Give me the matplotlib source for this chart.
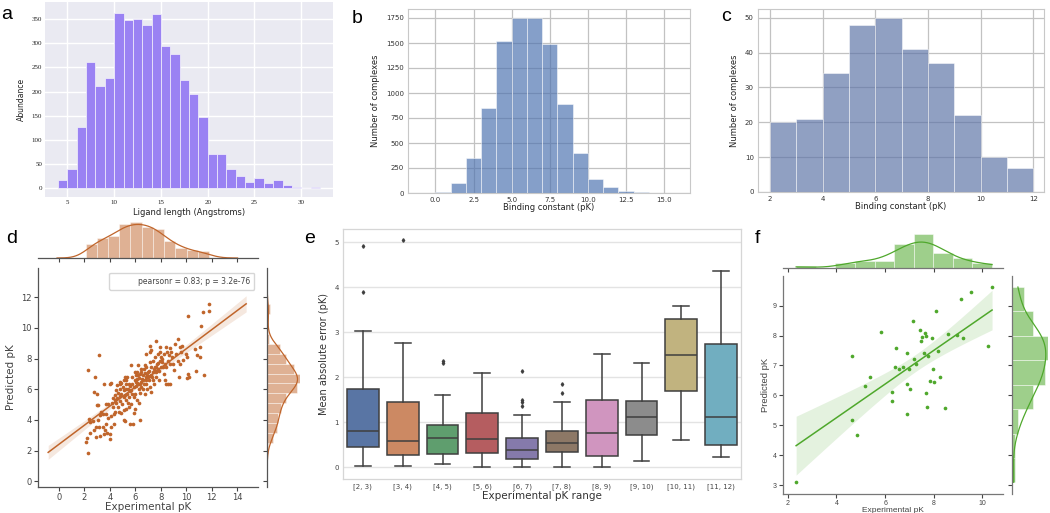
import numpy as np
import matplotlib
matplotlib.use("Agg")
import matplotlib.pyplot as plt
from matplotlib.patches import Rectangle
import seaborn as sns

# ---------------- data ----------------
lig_edges = list(range(4, 33))
lig_counts = [17, 40, 126, 261, 212, 227, 363, 348, 350, 338, 360, 294, 278, 224,
              195, 147, 71, 70, 39, 26, 12, 21, 10, 17, 6, 3, 0, 2]

pk_all_edges = list(range(0, 17))
pk_all_counts = [15, 100, 350, 850, 1525, 1750, 1750, 1490, 890, 400, 140, 60, 20, 10, 3, 2]

pk_core_edges = list(range(2, 13))
pk_core_counts = [20, 21, 34, 48, 50, 41, 37, 22, 10, 7]

d_exp = [2.28, 3.14, 2.28, 2.09, 2.20, 2.41, 2.36, 2.46, 2.80, 2.77, 2.96, 2.98, 3.09, 2.77, 2.93,
         3.19, 3.14, 2.88, 3.46, 3.59, 3.51, 3.66, 3.77, 3.85, 3.48, 3.19, 3.51, 3.85, 3.66, 3.98,
         4.03, 4.11, 4.29, 4.11, 4.29, 4.14, 4.24, 4.42, 4.45, 4.11, 4.37, 4.63, 4.55, 4.76, 4.90,
         4.63, 4.71, 4.90, 5.08, 5.16, 5.08, 4.82, 4.97, 5.16, 5.24, 5.34, 5.42, 5.50, 5.29, 5.08,
         5.16, 5.34, 5.24, 5.55, 5.68, 5.68, 5.76, 5.60, 5.81, 5.94, 5.86, 5.86, 5.94, 6.02, 6.13,
         6.13, 6.20, 6.28, 6.34, 6.39, 6.47, 6.34, 6.13, 6.28, 6.47, 6.54, 6.60, 6.65, 6.73, 6.65,
         6.73, 6.86, 6.86, 6.91, 6.99, 7.07, 7.12, 7.17, 7.25, 7.25, 7.33, 7.38, 7.43, 7.17, 7.25,
         7.51, 7.51, 7.59, 7.64, 7.70, 7.77, 7.85, 7.91, 7.96, 8.04, 8.12, 8.17, 8.22, 8.30, 8.43,
         8.56, 8.69, 8.38, 8.48, 8.64, 8.74, 8.82, 8.90, 8.95, 9.01, 9.08, 9.35, 9.48, 9.61, 9.69,
         9.21, 9.35, 9.48, 9.74, 9.95, 10.05, 10.13, 10.18, 9.42, 10.13, 10.65, 10.84, 11.05, 11.10,
         11.18, 11.31, 11.78, 11.78, 11.36, 10.79, 10.05, 7.64, 7.12, 6.86, 5.68, 6.20, 4.82, 4.24,
         4.03, 5.76, 5.94, 6.07, 6.28, 6.47, 6.60, 6.75, 6.91, 7.07, 7.25, 7.43, 7.59, 7.75, 7.91,
         8.07, 5.60, 5.42, 5.50, 5.29, 5.08, 4.90, 4.76, 4.55, 4.37, 6.02, 6.20, 5.86, 5.71, 5.50,
         5.08, 6.60, 6.81, 6.99, 7.38, 7.64, 7.85, 8.04, 8.30, 8.43, 8.56, 8.69, 8.22, 7.77, 7.38,
         7.12, 6.86, 6.47, 6.34, 6.13, 5.94, 5.29, 5.03, 4.76, 4.50, 3.72, 3.33, 3.09, 2.67]
d_pred = [7.25, 8.20, 1.84, 2.56, 2.84, 3.15, 4.03, 3.88, 6.77, 5.81, 5.70, 4.95, 4.95, 3.32, 2.89,
          2.93, 3.56, 3.54, 3.54, 3.32, 3.06, 3.71, 3.15, 4.14, 4.40, 4.30, 6.36, 5.05, 5.05, 2.78,
          3.10, 3.54, 3.75, 4.25, 4.40, 5.10, 5.44, 5.60, 5.10, 6.40, 4.51, 5.75, 6.25, 6.46, 6.40,
          4.84, 4.51, 4.45, 4.62, 3.90, 4.01, 5.21, 5.01, 5.60, 5.27, 5.71, 5.10, 5.49, 4.73, 6.62,
          6.79, 6.79, 6.31, 5.88, 5.05, 5.97, 6.31, 3.71, 3.75, 4.69, 4.45, 5.49, 5.71, 6.18, 6.42,
          6.68, 6.96, 6.03, 5.75, 6.31, 6.14, 3.97, 5.27, 5.10, 6.46, 6.68, 6.94, 6.31, 5.71, 7.33,
          7.61, 6.79, 6.36, 6.03, 7.11, 6.57, 6.14, 6.88, 5.81, 7.44, 6.79, 7.11, 6.36, 8.85, 8.57,
          8.09, 7.44, 7.11, 6.79, 7.66, 7.33, 6.57, 8.74, 8.42, 8.09, 7.77, 7.44, 7.01, 6.62, 6.31,
          6.31, 6.36, 8.74, 8.42, 8.20, 8.70, 8.42, 8.09, 7.66, 7.27, 8.96, 9.28, 8.74, 8.42, 8.85,
          8.31, 7.87, 7.66, 7.92, 8.31, 8.13, 7.01, 6.79, 6.83, 10.74, 8.63, 8.20, 8.09, 8.74,
          10.09, 11.06, 11.13, 11.56, 6.96, 7.22, 6.72, 9.13, 8.42, 8.31, 7.55, 7.61, 6.31, 4.84,
          6.36, 6.79, 6.62, 6.90, 6.75, 7.11, 6.62, 7.05, 6.96, 7.18, 6.96, 7.31, 7.44, 7.70, 7.87,
          7.98, 6.18, 6.03, 6.36, 6.03, 5.92, 5.71, 5.53, 5.44, 5.27, 6.46, 6.36, 6.14, 5.71, 4.84,
          5.49, 6.03, 6.57, 6.79, 6.62, 7.22, 7.18, 7.44, 7.66, 7.44, 7.87, 7.66, 8.31, 8.31, 7.87,
          7.77, 7.44, 7.33, 7.01, 7.11, 7.11, 6.57, 6.14, 6.03, 5.92, 4.40, 4.51, 3.97, 3.93]
d_label = "pearsonr = 0.83; p = 3.2e-76"

e_labels = ["[2, 3)", "[3, 4)", "[4, 5)", "[5, 6)", "[6, 7)", "[7, 8)", "[8, 9)", "[9, 10)",
            "[10, 11)", "[11, 12)"]
e_q1 = [0.45, 0.27, 0.30, 0.31, 0.19, 0.34, 0.26, 0.72, 1.69, 0.50]
e_med = [0.80, 0.59, 0.66, 0.62, 0.39, 0.53, 0.76, 1.11, 2.49, 1.13]
e_q3 = [1.74, 1.46, 0.94, 1.21, 0.65, 0.81, 1.49, 1.47, 3.29, 2.74]
e_whislo = [0.04, 0.02, 0.08, 0.01, 0.01, 0.01, 0.01, 0.13, 0.61, 0.24]
e_whishi = [3.03, 2.76, 1.61, 2.09, 1.16, 1.46, 2.53, 2.33, 3.58, 4.37]
e_fliers = [[3.90, 4.92], [5.05], [2.33, 2.36], [], [1.37, 1.45, 1.50, 2.15], [1.66, 1.86],
            [], [], [], []]

f_exp = [2.34, 4.63, 4.63, 4.85, 5.16, 5.39, 5.84, 6.27, 6.27, 6.42, 6.46, 6.57, 6.72, 6.90,
         6.92, 6.91, 6.98, 7.02, 7.13, 7.20, 7.27, 7.43, 7.49, 7.53, 7.60, 7.64, 7.69, 7.70, 7.72,
         7.75, 7.83, 7.91, 7.98, 8.02, 8.11, 8.17, 8.25, 8.46, 8.57, 8.94, 9.13, 9.20, 9.54, 10.24,
         10.40]
f_pred = [3.09, 7.33, 5.19, 4.66, 6.30, 6.60, 8.13, 6.10, 5.80, 6.94, 7.58, 6.87, 6.96, 7.41,
          6.37, 5.39, 6.88, 6.22, 8.47, 7.20, 7.05, 8.20, 7.81, 7.95, 7.41, 8.09, 6.07, 7.99, 5.60,
          7.33, 6.47, 7.91, 6.88, 6.46, 8.82, 7.48, 6.61, 5.56, 8.05, 8.02, 9.21, 7.91, 9.44, 7.66,
          9.62]

# ---------------- helpers ----------------
W, H = 1050, 513


def box(l, t, r, b):
    return [l / W, 1 - b / H, (r - l) / W, (b - t) / H]


def kde(data, grid):
    data = np.asarray(data, float)
    n = len(data)
    bw = n ** (-1 / 5) * data.std(ddof=1)
    z = (grid[:, None] - data[None, :]) / bw
    return np.exp(-0.5 * z ** 2).sum(1) / (n * bw * np.sqrt(2 * np.pi)), bw


def regfit(x, y, grid):
    x = np.asarray(x, float); y = np.asarray(y, float)
    b1, b0 = np.polyfit(x, y, 1)
    n = len(x)
    res = y - (b0 + b1 * x)
    s = np.sqrt((res ** 2).sum() / (n - 2))
    sxx = ((x - x.mean()) ** 2).sum()
    se = s * np.sqrt(1 / n + (grid - x.mean()) ** 2 / sxx)
    t = 1.97 if n > 100 else 2.02
    yhat = b0 + b1 * grid
    return yhat, yhat - t * se, yhat + t * se


fig = plt.figure(figsize=(10.5, 5.13), dpi=100)
SERIF = ["Liberation Serif", "DejaVu Serif"]

# ---------------- panel a ----------------
ax = fig.add_axes(box(45, 2, 333, 197))
ax.set_facecolor("#EAEAF2")
ax.set_axisbelow(True)
ax.grid(True, color="white", linewidth=1.0)
for s in ax.spines.values():
    s.set_visible(False)
ax.bar(lig_edges[:-1], lig_counts, width=1, align="edge", color="#9a82f3",
       edgecolor="#f4f2fb", linewidth=0.5)
ax.set_xlim(2.6, 33.4)
ax.set_ylim(-18, 385)
ax.set_xticks(range(5, 31, 5))
ax.set_yticks(range(0, 351, 50))
ax.tick_params(length=0, labelsize=5, colors="#222222", pad=2)
for lab in ax.get_xticklabels() + ax.get_yticklabels():
    lab.set_family(SERIF)
ax.set_xlabel("Ligand length (Angstroms)", fontsize=6, labelpad=2, color="#222222")
ax.set_ylabel("Abundance", fontsize=5.5, labelpad=4, color="#222222")

# ---------------- panel b ----------------
def style_white(ax):
    ax.set_facecolor("white")
    ax.set_axisbelow(True)
    ax.grid(True, color="#c2c2c2", linewidth=0.9)
    for s in ax.spines.values():
        s.set_color("#c8c8c8")
        s.set_linewidth(0.8)
    ax.tick_params(length=0, labelsize=5, colors="#333333", pad=3)


ax = fig.add_axes(box(408, 9, 690, 193))
style_white(ax)
ax.bar(pk_all_edges[:-1], pk_all_counts, width=1, align="edge", color="#4C72B0", alpha=0.68,
       edgecolor="white", linewidth=0.5)
ax.set_xlim(-1.8, 16.7)
ax.set_ylim(0, 1840)
ax.set_xticks([0, 2.5, 5, 7.5, 10, 12.5, 15])
ax.set_xticklabels(["0.0", "2.5", "5.0", "7.5", "10.0", "12.5", "15.0"])
ax.set_yticks(range(0, 1751, 250))
ax.set_xlabel("Binding constant (pK)", fontsize=6, labelpad=0, color="#222222")
ax.set_ylabel("Number of complexes", fontsize=6, labelpad=4, color="#222222")

# ---------------- panel c ----------------
ax = fig.add_axes(box(758, 9, 1044, 192))
style_white(ax)
ax.bar(pk_core_edges[:-1], pk_core_counts, width=1, align="edge", color="#5c73a6", alpha=0.68,
       edgecolor="white", linewidth=0.5)
ax.set_xlim(1.55, 12.4)
ax.set_ylim(0, 52.5)
ax.set_xticks(range(2, 13, 2))
ax.set_yticks(range(0, 51, 10))
ax.set_xlabel("Binding constant (pK)", fontsize=6, labelpad=0, color="#222222")
ax.set_ylabel("Number of complexes", fontsize=6, labelpad=4, color="#222222")

# ---------------- joint plot helper ----------------
def joint(main_box, top_box, right_box, x, y, color, xlim, ylim, xticks, yticks, nbx, nby,
          cut, line_range, hist_alpha, fsize_lab, fsize_tick, family, spine_col, ylabpad,
          yfsize):
    axm = fig.add_axes(box(*main_box))
    axt = fig.add_axes(box(*top_box))
    axr = fig.add_axes(box(*right_box))
    x = np.asarray(x); y = np.asarray(y)
    axm.scatter(x, y, s=7, color=color, linewidths=0, zorder=3)
    g = np.linspace(line_range[0], line_range[1], 100)
    yh, lo, hi = regfit(x, y, g)
    axm.plot(g, yh, color=color, linewidth=1.1, zorder=4)
    axm.fill_between(g, lo, hi, color=color, alpha=0.15, linewidth=0, zorder=2)
    axm.set_xlim(*xlim); axm.set_ylim(*ylim)
    axm.set_xticks(xticks); axm.set_yticks(yticks)
    # marginals
    hx, ex = np.histogram(x, bins=nbx, density=True)
    axt.bar(ex[:-1], hx, width=np.diff(ex), align="edge", color=color, alpha=hist_alpha,
            edgecolor="white", linewidth=0.6)
    _, bwx = kde(x, np.array([0.0]))
    gx = np.linspace(x.min() - cut * bwx, x.max() + cut * bwx, 300)
    kx, _ = kde(x, gx)
    axt.plot(gx, kx, color=color, linewidth=0.9)
    hy, ey = np.histogram(y, bins=nby, density=True)
    axr.barh(ey[:-1], hy, height=np.diff(ey), align="edge", color=color, alpha=hist_alpha,
             edgecolor="white", linewidth=0.6)
    _, bwy = kde(y, np.array([0.0]))
    gy = np.linspace(y.min() - cut * bwy, y.max() + cut * bwy, 300)
    ky, _ = kde(y, gy)
    axr.plot(ky, gy, color=color, linewidth=0.9)
    axt.set_xlim(*xlim); axt.set_ylim(0, max(hx.max(), kx.max()) * 1.03)
    axr.set_ylim(*ylim); axr.set_xlim(0, max(hy.max(), ky.max()) * 1.0)
    axt.set_xticks(xticks); axr.set_yticks(yticks)
    for a in (axm, axt, axr):
        a.set_facecolor("white")
        for s in a.spines.values():
            s.set_color(spine_col); s.set_linewidth(0.9)
        a.spines["top"].set_visible(False)
        a.spines["right"].set_visible(False)
        a.tick_params(labelsize=fsize_tick, colors="#444444", length=3, width=0.8, pad=1.5)
    axt.spines["left"].set_visible(False)
    axt.tick_params(left=False, labelleft=False, labelbottom=False)
    axr.spines["bottom"].set_visible(False)
    axr.tick_params(bottom=False, labelbottom=False, labelleft=False)
    for lab in axm.get_xticklabels() + axm.get_yticklabels():
        lab.set_family(family)
    axm.set_xlabel("Experimental pK", fontsize=fsize_lab, labelpad=0, color="#444444",
                   family=family)
    axm.set_ylabel("Predicted pK", fontsize=yfsize, labelpad=ylabpad, color="#444444",
                   family=family)
    return axm


# ---------------- panel d ----------------
axd = joint((38, 268, 258, 487), (38, 221, 258, 258), (267, 268, 300, 487), d_exp, d_pred,
            "#c0652b", (-1.65, 15.63), (-0.37, 13.9), range(0, 15, 2), range(0, 13, 2),
            11, 15, 3, (-0.85, 14.7), 0.5, 7.5, 6, ["DejaVu Sans"], "#555555", 4, 7.5)
axd.legend(handles=[Rectangle((0, 0), 1, 1, fill=False, edgecolor="none")], labels=[d_label],
           loc="upper right", fontsize=5.5, frameon=True, handlelength=2.5, borderpad=0.5,
           labelcolor="#444444", bbox_to_anchor=(1.0, 0.995))

# ---------------- panel e ----------------
ax = fig.add_axes(box(343, 229, 741, 479))
ax.set_facecolor("white")
ax.set_axisbelow(True)
ax.yaxis.grid(True, color="#e3e3e3", linewidth=1.0)
for s in ax.spines.values():
    s.set_color("#d6d6d6"); s.set_linewidth(0.9)
pal = [sns.desaturate(c, 0.75) for c in sns.color_palette("deep", 10)]
stats = []
for i in range(len(e_labels)):
    stats.append(dict(q1=e_q1[i], med=e_med[i], q3=e_q3[i], whislo=e_whislo[i],
                      whishi=e_whishi[i], fliers=e_fliers[i], label=e_labels[i]))
lc = "#3f3f3f"
bp = ax.bxp(stats, positions=range(len(e_labels)), widths=0.8, patch_artist=True,
            showfliers=True,
            boxprops=dict(edgecolor=lc, linewidth=1.1),
            medianprops=dict(color=lc, linewidth=1.1),
            whiskerprops=dict(color=lc, linewidth=1.1),
            capprops=dict(color=lc, linewidth=1.1),
            flierprops=dict(marker="d", markersize=1.8, markerfacecolor=lc,
                            markeredgecolor=lc), capwidths=0.4)
for patch, c in zip(bp["boxes"], pal):
    patch.set_facecolor(c)
ax.set_xlim(-0.5, len(e_labels) - 0.5)
ax.set_ylim(-0.26, 5.3)
ax.set_yticks(range(0, 6))
ax.tick_params(length=0, labelsize=5, colors="#444444", pad=3)
ax.set_xlabel("Experimental pK range", fontsize=7.5, labelpad=1, color="#333333")
ax.set_ylabel("Mean absolute error (pK)", fontsize=7, labelpad=4, color="#333333")

# ---------------- panel f ----------------
joint((783, 276, 1003, 494), (783, 233, 1003, 268), (1012, 276, 1048, 494), f_exp, f_pred,
      "#4fa82c", (1.8, 10.85), (2.7, 9.99), range(2, 11, 2), range(3, 10, 1),
      10, 8, 0, (min(f_exp), max(f_exp)), 0.55, 6.0, 5, ["Liberation Sans", "DejaVu Sans"],
      "#777777", 2, 6.8)

# ---------------- panel letters ----------------
LET = ["Liberation Sans", "DejaVu Sans"]
for letter, px, py in [("a", 1, 19), ("b", 352, 23), ("c", 721, 21), ("d", 6, 243),
                       ("e", 304, 243), ("f", 755, 243)]:
    fig.text(px / W, 1 - py / H, letter, fontsize=14, family=LET, ha="left", va="baseline")

fig.savefig("out.png", dpi=100)
